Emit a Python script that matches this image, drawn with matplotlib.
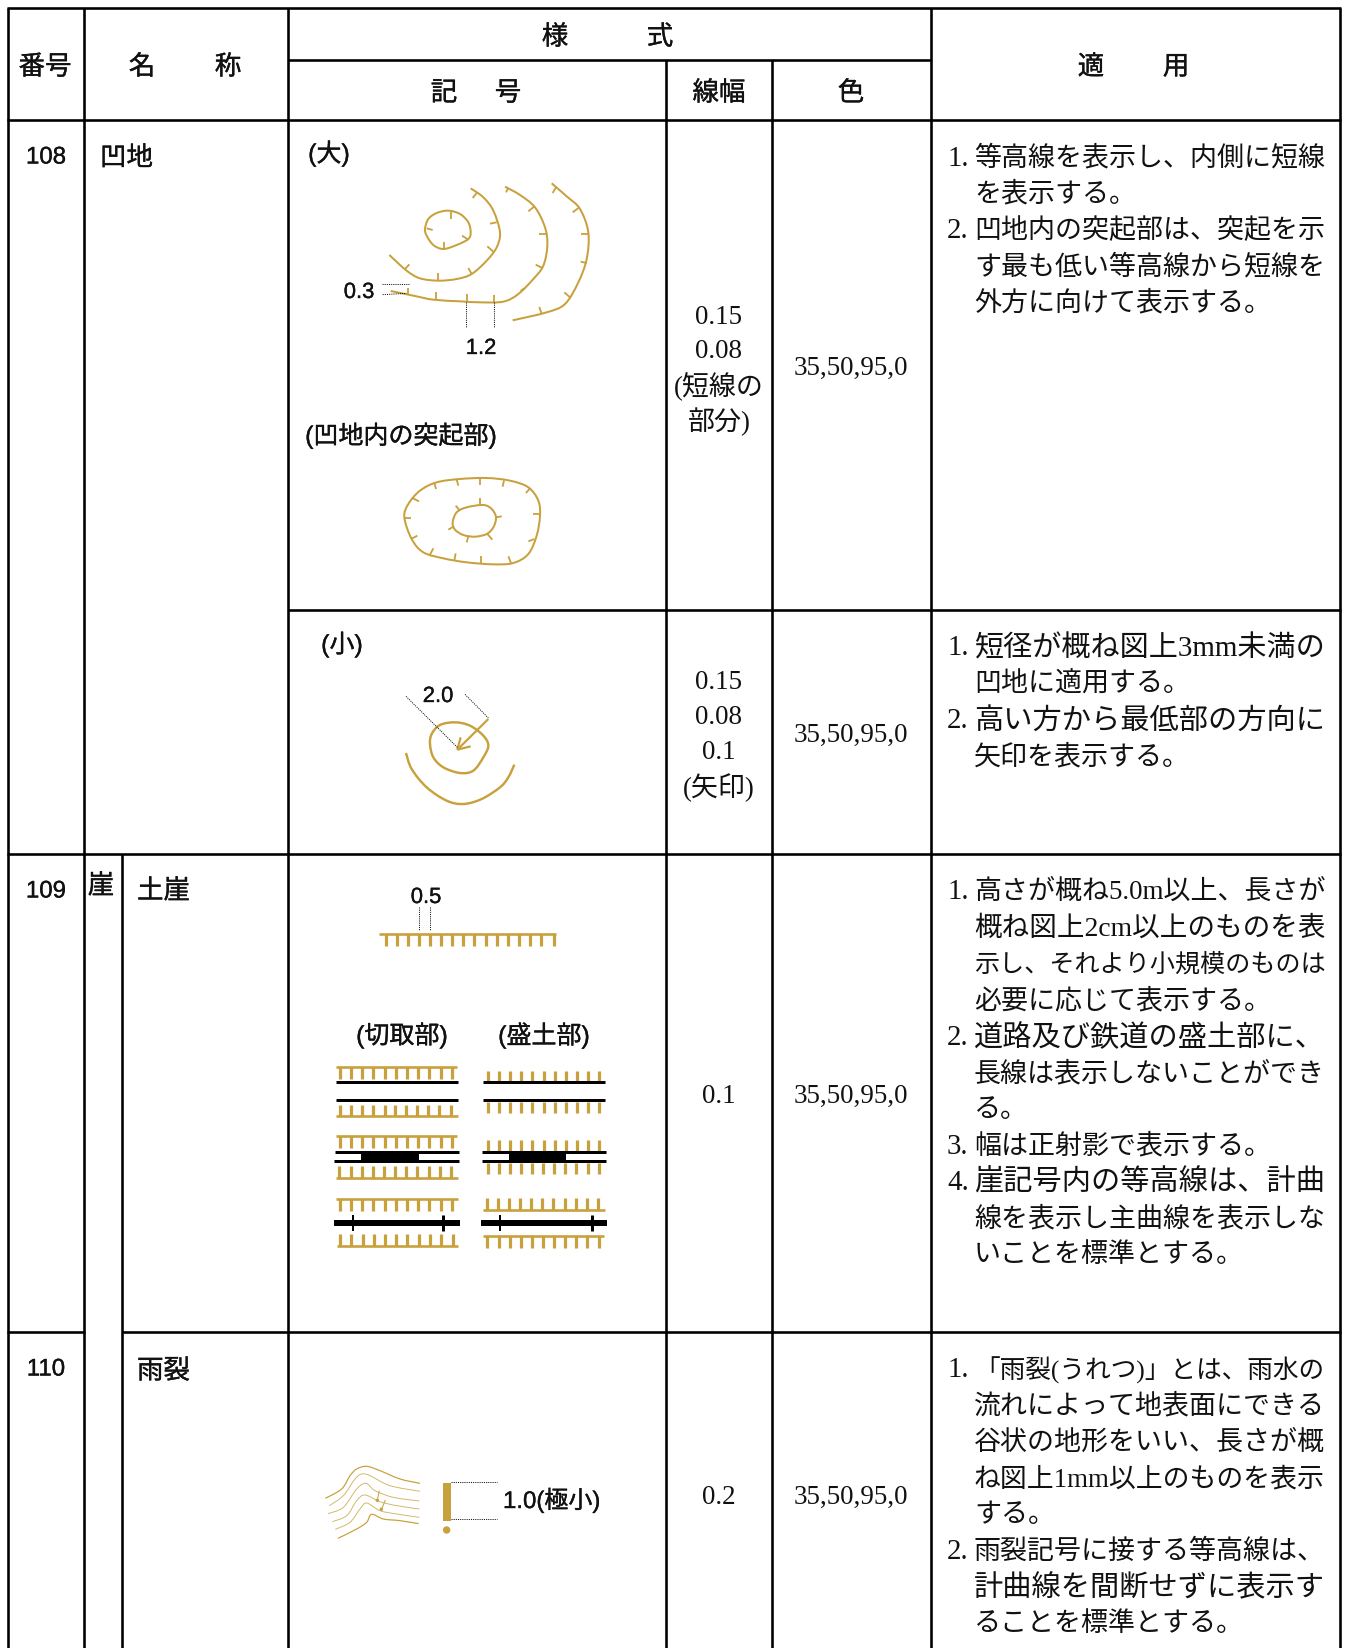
import numpy as np
import matplotlib
matplotlib.use("Agg")
import matplotlib.pyplot as plt
import matplotlib.patheffects as pe
from matplotlib.path import Path
from matplotlib.patches import PathPatch, Rectangle, Circle

GOLD = "#C8A03C"
SERIF = ["Liberation Serif", "Noto Sans CJK JP"]
SANS = ["Liberation Sans", "Noto Sans CJK JP"]
PX = 0.72  # px -> pt at dpi 100

# table text
APPLY_108A = ["1.等高線を表示し、内側に短線", "を表示する。", "2.凹地内の突起部は、突起を示",
              "す最も低い等高線から短線を", "外方に向けて表示する。"]
APPLY_108B = ["1.短径が概ね図上3mm未満の", "凹地に適用する。", "2.高い方から最低部の方向に",
              "矢印を表示する。"]
APPLY_109 = ["1.高さが概ね5.0m以上、長さが", "概ね図上2cm以上のものを表", "示し、それより小規模のものは",
             "必要に応じて表示する。", "2.道路及び鉄道の盛土部に、", "長線は表示しないことができ",
             "る。", "3.幅は正射影で表示する。", "4.崖記号内の等高線は、計曲",
             "線を表示し主曲線を表示しな", "いことを標準とする。"]
APPLY_110 = ["1.「雨裂(うれつ)」とは、雨水の", "流れによって地表面にできる", "谷状の地形をいい、長さが概",
             "ね図上1mm以上のものを表示", "する。", "2.雨裂記号に接する等高線は、",
             "計曲線を間断せずに表示す", "ることを標準とする。"]
WIDTH_108A = ["0.15", "0.08", "(短線の", "部分)"]
WIDTH_108B = ["0.15", "0.08", "0.1", "(矢印)"]
COLOR_CMYK = "35,50,95,0"

# symbol 108 (large), read in crop pixels (crop origin 280,120, 3x)
LOOP_A = [(435, 330), (445, 300), (470, 282), (505, 275), (540, 285), (565, 310), (572, 340),
          (565, 360), (530, 378), (490, 390), (460, 378), (440, 350)]
TICKS_A = [((513, 278), (513, 300)), ((440, 328), (458, 333)), ((565, 362), (546, 350)), ((492, 388), (492, 368))]
CONTOUR_B = [(572, 208), (610, 235), (640, 275), (660, 340), (650, 385), (620, 425), (575, 465),
             (530, 480), (475, 485), (420, 478), (380, 455), (328, 408)]
TICKS_B = [((590, 222), (578, 237)), ((650, 310), (630, 314)), ((640, 398), (622, 382)), ((575, 465), (565, 447)),
           ((474, 485), (474, 462)), ((375, 450), (388, 436))]
CONTOUR_C = [(675, 203), (720, 228), (765, 265), (795, 325), (802, 380), (790, 440), (760, 480), (715, 525),
             (670, 548), (600, 550), (540, 547), (460, 542), (400, 530), (332, 516)]
TICKS_C = [((685, 207), (678, 220)), ((762, 263), (745, 277)), ((797, 345), (778, 345)), ((787, 447), (767, 437)),
           ((735, 507), (722, 515)), ((641, 550), (641, 528)), ((560, 549), (560, 526)), ((467, 541), (467, 518)),
           ((384, 528), (384, 506))]
CONTOUR_D = [(815, 193), (860, 232), (900, 270), (925, 340), (920, 420), (895, 490), (855, 555), (800, 580), (698, 604)]
TICKS_D = [((828, 205), (818, 222)), ((898, 265), (878, 280)), ((925, 345), (902, 345)), ((920, 432), (902, 428)),
           ((870, 535), (853, 520)), ((785, 585), (778, 564))]
DOTS_LARGE = [((305, 495), (388, 495)), ((308, 527), (380, 523)), ((557, 550), (557, 625)), ((641, 550), (641, 625))]

# bump inside a depression, same crop
OUTER = [(373, 1195), (385, 1155), (420, 1115), (470, 1090), (540, 1080), (620, 1077), (690, 1085), (745, 1105),
         (775, 1145), (780, 1190), (770, 1250), (745, 1305), (700, 1332), (640, 1336), (560, 1330), (490, 1318),
         (430, 1300), (395, 1260)]
TICKS_OUTER = [((463, 1091), (468, 1110)), ((530, 1082), (535, 1100)), ((600, 1078), (600, 1098)),
               ((672, 1084), (668, 1103)), ((750, 1108), (738, 1122)), ((780, 1185), (760, 1185)),
               ((763, 1260), (745, 1267)), ((693, 1332), (685, 1312)), ((603, 1333), (603, 1312)),
               ((523, 1325), (527, 1303)), ((450, 1307), (460, 1288)), ((393, 1260), (412, 1250)),
               ((373, 1197), (393, 1197)), ((397, 1137), (417, 1147))]
INNER = [(518, 1210), (530, 1180), (560, 1165), (610, 1158), (635, 1170), (648, 1195), (640, 1225), (620, 1245),
         (585, 1253), (550, 1248), (525, 1232)]
TICKS_INNER = [((600, 1158), (600, 1138)), ((540, 1175), (527, 1160)), ((648, 1195), (665, 1192)),
               ((622, 1245), (637, 1262)), ((565, 1252), (560, 1270)), ((522, 1222), (505, 1232))]

# symbol 108 (small), crop origin 300,620
LOOP_SMALL = [(390, 375), (395, 345), (420, 318), (465, 310), (510, 320), (550, 350), (565, 380), (550, 415),
              (520, 455), (480, 462), (430, 445), (400, 415)]
ARC_SMALL = [(318, 402), (335, 450), (380, 505), (440, 545), (490, 555), (545, 540), (600, 505), (625, 475), (643, 437)]
ARROW_SMALL = [((565, 300), (472, 392)), ((472, 392), (482, 355)), ((472, 392), (512, 382))]
DOTS_SMALL = [((318, 232), (472, 385)), ((495, 226), (565, 297))]

# symbol 109, crop origin 310,870
TOP_TICKS = [229, 262, 295, 328, 361, 394, 427, 460, 493, 527, 560, 593, 627, 660, 693, 731]
L1_TICKS = [90, 124, 157, 190, 224, 259, 292, 325, 358, 392, 425]
L2_TICKS = [90, 124, 157, 190, 224, 256, 288, 321, 355, 388, 422]
L3_TICKS = [88, 122, 155, 189, 222, 256, 289, 322, 356, 389, 423]
L4_TICKS = [91, 124, 158, 192, 226, 259, 292, 326, 359, 392, 428]
R1_TICKS = [535, 568, 601, 634, 667, 703, 736, 769, 802, 835, 868]
R3_TICKS = [535, 568, 601, 634, 667, 700, 733, 766, 799, 835, 868]
R4_TICKS = [532, 565, 598, 631, 664, 697, 730, 766, 799, 832, 865]
R5_TICKS = [532, 568, 601, 634, 667, 700, 733, 766, 799, 832, 868]

# symbol 110, crop origin 300,1440
GULLY_THICK = [
    [(76, 178), (125, 150), (150, 110), (170, 90), (200, 82), (240, 95), (300, 120), (360, 133)],
    [(114, 298), (170, 270), (200, 250), (215, 226), (250, 240), (300, 245), (356, 254)],
]
GULLY_THIN = [
    [(88, 200), (130, 170), (165, 120), (185, 105), (210, 110), (270, 140), (360, 157)],
    [(84, 224), (130, 205), (170, 150), (198, 133), (225, 155), (280, 175), (358, 186)],
    [(97, 248), (140, 230), (170, 185), (195, 168), (240, 188), (290, 200), (358, 210)],
    [(106, 271), (150, 250), (180, 210), (200, 192), (240, 215), (290, 225), (358, 235)],
]
RAIN_MARKS = [((238, 155), (232, 183)), ((256, 183), (245, 210))]


def crop(pts, ox, oy):
    return [(ox + x / 3, oy + y / 3) for x, y in pts]


def smooth_path(pts, closed=False):
    # catmull-rom through the read points
    p = np.array(pts, dtype=float)
    if closed:
        p = np.vstack([p, p[0]])
        prev = np.vstack([p[-2], p[:-1]])
        nxt = np.vstack([p[1:], p[1]])
    else:
        prev = np.vstack([p[0], p[:-1]])
        nxt = np.vstack([p[1:], p[-1]])
    verts = [p[0]]
    codes = [Path.MOVETO]
    for i in range(len(p) - 1):
        verts += [p[i] + (nxt[i] - prev[i]) / 6, p[i + 1] - (nxt[i + 1] - prev[i + 1]) / 6, p[i + 1]]
        codes += [Path.CURVE4] * 3
    return Path(verts, codes)


fig = plt.figure(figsize=(13.49, 16.49), dpi=100)
ax = fig.add_axes([0, 0, 1, 1])
ax.set_xlim(0, 1349)
ax.set_ylim(1649, 0)
ax.axis("off")
renderer = fig.canvas.get_renderer()


def curve(pts, ox, oy, closed=False, lw=2.0, alpha=1.0):
    ax.add_patch(PathPatch(smooth_path(crop(pts, ox, oy), closed), fill=False, edgecolor=GOLD,
                           lw=lw * PX, alpha=alpha, capstyle="butt"))


def segs(items, ox, oy, lw=1.8, color=GOLD, dotted=False):
    for a, b in items:
        (x0, y0), (x1, y1) = crop([a, b], ox, oy)
        if dotted:
            ax.plot([x0, x1], [y0, y1], color="black", lw=0.9 * PX, ls=(0, (1.2, 1.2)))
        else:
            ax.plot([x0, x1], [y0, y1], color=color, lw=lw * PX, solid_capstyle="butt")


def hline(x0, x1, y, lw=2.6, color=GOLD):
    segs([((x0, y), (x1, y))], 310, 870, lw=lw, color=color)


def comb(xs, y0, y1):
    for x in xs:
        segs([((x, y0), (x, y1))], 310, 870, lw=3.2)


def txt(x, y, s, size, family=SANS, ha="center"):
    t = ax.text(x, y + 5.5, s, fontsize=size * PX, family=family, ha=ha, va="center", color="#111111")
    if family is SANS:
        # reference gothic is a bit heavier than Noto regular
        t.set_path_effects([pe.withStroke(linewidth=0.25, foreground="#111111")])
    return t


def stack(x, y, lines, pitch=34.8, ha="center"):
    for i, s in enumerate(lines):
        txt(x, y + i * pitch, s, 27, SERIF, ha)


def notes(y0, lines):
    for i, s in enumerate(lines):
        y = y0 + i * 36.35
        if s[0].isdigit() and s[1] == ".":
            txt(947, y, s[:2], 29, SERIF, "left")
            s = s[2:]
        t = txt(974, y, s, 27, SERIF, "left")
        # lines that wrap are justified to the cell in the reference
        if not s.endswith("。"):
            w = t.get_window_extent(renderer).width
            t.set_fontsize(27 * PX * 351 / w)


# table grid
for x, y0, y1 in [(8, 9, 1649), (84, 9, 1649), (288, 9, 1649), (666, 61, 1649), (772, 61, 1649),
                  (931, 9, 1649), (1339.5, 9, 1649), (122, 855, 1649)]:
    ax.plot([x, x], [y0, y1], color="black", lw=2.6 * PX, solid_capstyle="butt")
for y, x0, x1 in [(9, 7, 1341), (61, 288, 931), (121, 7, 1341), (611, 288, 1341), (855, 7, 1341),
                  (1333, 7, 85), (1333, 122, 1341)]:
    ax.plot([x0, x1], [y, y], color="black", lw=2.6 * PX, solid_capstyle="butt")

# header
txt(45, 63, "番号", 26.5)
txt(142, 63, "名", 26.5)
txt(228, 63, "称", 26.5)
txt(555, 33, "様", 26.5)
txt(660, 33, "式", 26.5)
txt(444, 89, "記", 26.5)
txt(508, 89, "号", 26.5)
txt(719, 89, "線幅", 26.5)
txt(851, 89, "色", 26.5)
txt(1091, 63, "適", 26.5)
txt(1176, 63, "用", 26.5)

# numbers and names
txt(46, 153, "108", 24)
txt(100, 154, "凹地", 26.5, ha="left")
txt(46, 887, "109", 24)
txt(101, 882, "崖", 26.5)
txt(137, 887, "土崖", 26.5, ha="left")
txt(46, 1365, "110", 24)
txt(137, 1367, "雨裂", 26.5, ha="left")

# width / colour / notes columns
stack(719, 311.5, WIDTH_108A)
stack(719, 677.5, WIDTH_108B)
txt(719, 1091, "0.1", 27, SERIF)
txt(719, 1492, "0.2", 27, SERIF)
for y in [363, 730, 1091, 1492]:
    txt(851, y, COLOR_CMYK, 27, SERIF)
notes(153, APPLY_108A)
notes(643, APPLY_108B)
notes(887, APPLY_109)
notes(1365, APPLY_110)

# 108 large
txt(329, 149, "(大)", 25)
txt(359, 288, "0.3", 22)
txt(481, 344, "1.2", 22)
txt(401, 431, "(凹地内の突起部)", 25)
curve(LOOP_A, 280, 120, closed=True)
for c in (CONTOUR_B, CONTOUR_C, CONTOUR_D):
    curve(c, 280, 120)
curve(OUTER, 280, 120, closed=True)
curve(INNER, 280, 120, closed=True)
for t in (TICKS_A, TICKS_B, TICKS_C, TICKS_D, TICKS_OUTER, TICKS_INNER):
    segs(t, 280, 120)
segs(DOTS_LARGE, 280, 120, dotted=True)

# 108 small
txt(342, 640, "(小)", 25)
txt(438, 692, "2.0", 22)
curve(LOOP_SMALL, 300, 620, closed=True, lw=2.4)
curve(ARC_SMALL, 300, 620, lw=2.4)
segs(ARROW_SMALL, 300, 620, lw=2.2)
segs(DOTS_SMALL, 300, 620, dotted=True)

# 109
txt(426, 893, "0.5", 22)
segs([((327, 115), (327, 183)), ((361, 115), (361, 183))], 310, 870, dotted=True)
hline(207, 738, 195)
comb(TOP_TICKS, 195, 231)
txt(402, 1031, "(切取部)", 25)
txt(544, 1031, "(盛土部)", 25)

# cut side
hline(78, 441, 595)
comb(L1_TICKS, 595, 630)
hline(78, 444, 640, 3, "black")
hline(78, 444, 694, 3, "black")
comb(L2_TICKS, 708, 742)
hline(78, 444, 742)
hline(78, 441, 802)
comb(L1_TICKS, 802, 837)
hline(75, 447, 850, 3, "black")
hline(72, 447, 877, 3, "black")
comb(L3_TICKS, 891, 926)
hline(78, 444, 926)
hline(78, 444, 991)
comb(L1_TICKS, 991, 1025)
hline(72, 450, 1062, 6, "black")
comb(L4_TICKS, 1095, 1130)
hline(81, 444, 1130)

# fill side
comb(R1_TICKS, 606, 636)
hline(519, 885, 640, 3, "black")
hline(519, 885, 694, 3, "black")
comb(R1_TICKS, 698, 732)
comb(R1_TICKS, 813, 846)
hline(516, 888, 850, 3, "black")
hline(516, 888, 877, 3, "black")
comb(R3_TICKS, 881, 915)
comb(R4_TICKS, 988, 1022)
hline(519, 885, 1022)
hline(513, 891, 1062, 6, "black")
hline(519, 882, 1102)
comb(R5_TICKS, 1102, 1137)

# road fill and cross bars
for x0, x1 in [(153, 327), (596, 769)]:
    ax.add_patch(Rectangle((310 + x0 / 3, 870 + 850 / 3), (x1 - x0) / 3, 27 / 3, color="black", lw=0))
segs([((130, 1038), (130, 1086)), ((570, 1038), (570, 1086))], 310, 870, lw=2, color="black")
segs([((400, 1038), (400, 1086)), ((845, 1038), (845, 1086))], 310, 870, lw=3, color="black")

# 110
for c in GULLY_THICK:
    curve(c, 300, 1440, lw=1.2)
for c in GULLY_THIN:
    curve(c, 300, 1440, lw=0.9, alpha=0.8)
segs(RAIN_MARKS, 300, 1440, lw=1.0)
for x, y in crop([(232, 184), (244, 211)], 300, 1440):
    ax.add_patch(Circle((x, y), 1.7, color=GOLD, lw=0))
ax.add_patch(Rectangle((300 + 429 / 3, 1440 + 132 / 3), 24 / 3, 113 / 3, color=GOLD, lw=0))
ax.add_patch(Circle((300 + 440 / 3, 1440 + 273 / 3), 3.7, color=GOLD, lw=0))
segs([((453, 130), (590, 130)), ((453, 241), (590, 241))], 300, 1440, dotted=True)
txt(503, 1496, "1.0(極小)", 24, ha="left")

fig.savefig("out.png", dpi=100)
